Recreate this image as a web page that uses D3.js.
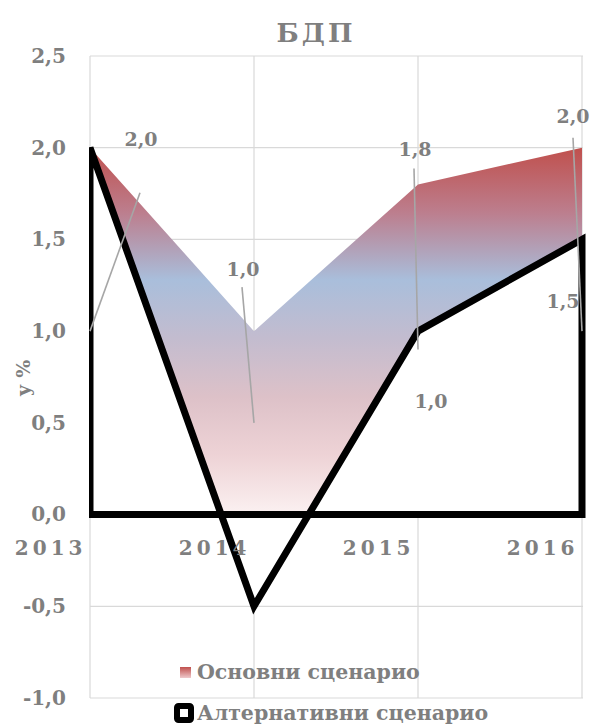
<!DOCTYPE html>
<html>
<head>
<meta charset="utf-8">
<script src="https://cdn.jsdelivr.net/npm/d3@7/dist/d3.min.js"></script>
<style>
  html, body { margin: 0; padding: 0; background: #fff; }
  svg { display: block; }
  text { font-family: "DejaVu Serif", "Liberation Serif", serif; fill: #7f7f7f; }
</style>
</head>
<body>
<svg id="chart" width="592" height="724"></svg>
<script>
// GDP growth, % – baseline and alternative scenario
const years = ["2013", "2014", "2015", "2016"];
const basic = [2.0, 1.0, 1.8, 2.0];
const alternative = [2.0, -0.5, 1.0, 1.5];
const yTicks = [2.5, 2.0, 1.5, 1.0, 0.5, 0.0, -0.5, -1.0];
const seriesNames = ["Основни сценарио", "Алтернативни сценарио"];
const titleText = "БДП";
const yTitle = "у %";

// label placement (offset from the point, and where its leader line ends)
const basicLabelPos = [
  { dx: 51, dy: -9, lx: 50, ly: 45 },
  { dx: -11, dy: -62, lx: -12, ly: -44 },
  { dx: -3, dy: -35, lx: -4, ly: -16 },
  { dx: -9, dy: -32, lx: -9, ly: -10 }
];
const altLabelPos = [null, null, { dx: 13, dy: 70 }, { dx: -19, dy: 62 }];

const fmt = v => (v < 0 ? "-" : "") + Math.abs(v).toFixed(1).replace(".", ",");

const svg = d3.select("#chart");
const x = d3.scalePoint().domain(years).range([90, 582]);
const y = d3.scaleLinear().domain([-1, 2.5]).range([698, 56]);
const left = x.range()[0], right = x.range()[1];

// gradient for the baseline scenario area
const defs = svg.append("defs");
const grad = defs.append("linearGradient")
  .attr("id", "basicFill").attr("gradientUnits", "userSpaceOnUse")
  .attr("x1", 0).attr("x2", 0).attr("y1", y(2.0)).attr("y2", y(0));
[[0, "#c0504d"], [0.18, "#bc7f8f"], [0.36, "#a9bedb"], [0.52, "#c3bccf"],
 [0.68, "#ddc1c8"], [0.84, "#eed3d6"], [1, "#fbf1f1"]]
  .forEach(([o, c]) => grad.append("stop").attr("offset", o).attr("stop-color", c));
const legGrad = defs.append("linearGradient")
  .attr("id", "legFill").attr("x1", 0).attr("x2", 0).attr("y1", 0).attr("y2", 1);
legGrad.append("stop").attr("offset", 0).attr("stop-color", "#c0504d");
legGrad.append("stop").attr("offset", 1).attr("stop-color", "#efc9cc");

defs.append("clipPath").attr("id", "plotClip")
  .append("rect").attr("x", left - 1).attr("y", 0).attr("width", right - left + 10).attr("height", 724);

// gridlines
const grid = svg.append("g").attr("stroke", "#d9d9d9").attr("stroke-width", 1.2);
grid.selectAll("line.h").data(yTicks).join("line")
  .attr("x1", left).attr("x2", right + 1)
  .attr("y1", d => y(d)).attr("y2", d => y(d));
grid.selectAll("line.v").data(years).join("line")
  .attr("x1", d => x(d)).attr("x2", d => x(d))
  .attr("y1", y(2.5)).attr("y2", y(-1));

// areas
const area = d3.area().x((d, i) => x(years[i])).y0(y(0)).y1(d => y(d));
svg.append("path").datum(basic).attr("d", area).attr("fill", "url(#basicFill)");
svg.append("path").datum(alternative).attr("d", area)
  .attr("fill", "#fff").attr("stroke", "#000").attr("stroke-width", 7)
  .attr("stroke-linejoin", "miter").attr("clip-path", "url(#plotClip)");

// data labels with leader lines
const lbl = svg.append("g");
basic.forEach((v, i) => {
  const p = basicLabelPos[i];
  const px = x(years[i]);
  lbl.append("line")
    .attr("x1", px).attr("y1", y(v / 2))
    .attr("x2", px + p.lx).attr("y2", y(v) + p.ly)
    .attr("stroke", "#a6a6a6").attr("stroke-width", 1.6);
  lbl.append("text").attr("x", px + p.dx).attr("y", y(v) + p.dy)
    .attr("text-anchor", "middle").attr("dominant-baseline", "central")
    .attr("font-size", 19).attr("font-weight", "bold").text(fmt(v));
});
alternative.forEach((v, i) => {
  const p = altLabelPos[i];
  if (!p) return;
  lbl.append("text").attr("x", x(years[i]) + p.dx).attr("y", y(v) + p.dy)
    .attr("text-anchor", "middle").attr("dominant-baseline", "central")
    .attr("font-size", 19).attr("font-weight", "bold").text(fmt(v));
});

// y axis
const yAxis = svg.append("g").attr("transform", `translate(${left},0)`)
  .call(d3.axisLeft(y).tickValues(yTicks).tickFormat(fmt).tickSize(0).tickPadding(24));
yAxis.select(".domain").remove();
yAxis.selectAll("text").attr("font-size", 20).attr("font-weight", "bold")
  .attr("fill", "#7f7f7f").style("font-family", "DejaVu Serif, serif");

// x axis labels
const xAxis = svg.append("g").attr("transform", "translate(0,555)")
  .call(d3.axisBottom(x).tickSize(0));
xAxis.select(".domain").remove();
xAxis.selectAll("text").attr("y", 0).attr("dy", 0).attr("x", -4)
  .attr("text-anchor", "end").attr("font-size", 20).attr("font-weight", "bold")
  .attr("letter-spacing", 4).attr("fill", "#7f7f7f").style("font-family", "DejaVu Serif, serif");

// titles
svg.append("text").attr("x", 316).attr("y", 42).attr("text-anchor", "middle")
  .attr("font-size", 26).attr("font-weight", "bold").attr("letter-spacing", 3)
  .text(titleText);
svg.append("text").attr("transform", "translate(30,378) rotate(-90)")
  .attr("text-anchor", "middle").attr("font-size", 19).attr("font-weight", "bold")
  .text(yTitle);

// legend
const leg = svg.append("g");
leg.append("rect").attr("x", 180).attr("y", 667).attr("width", 11).attr("height", 11)
  .attr("fill", "url(#legFill)");
leg.append("text").attr("x", 197).attr("y", 672).attr("dominant-baseline", "central")
  .attr("font-size", 20.5).attr("font-weight", "bold").text(seriesNames[0]);
leg.append("rect").attr("x", 177).attr("y", 706).attr("width", 14).attr("height", 14)
  .attr("rx", 1.5).attr("fill", "#fff").attr("stroke", "#000").attr("stroke-width", 6);
leg.append("text").attr("x", 197).attr("y", 713).attr("dominant-baseline", "central")
  .attr("font-size", 20.5).attr("font-weight", "bold").text(seriesNames[1]);
</script>
</body>
</html>
